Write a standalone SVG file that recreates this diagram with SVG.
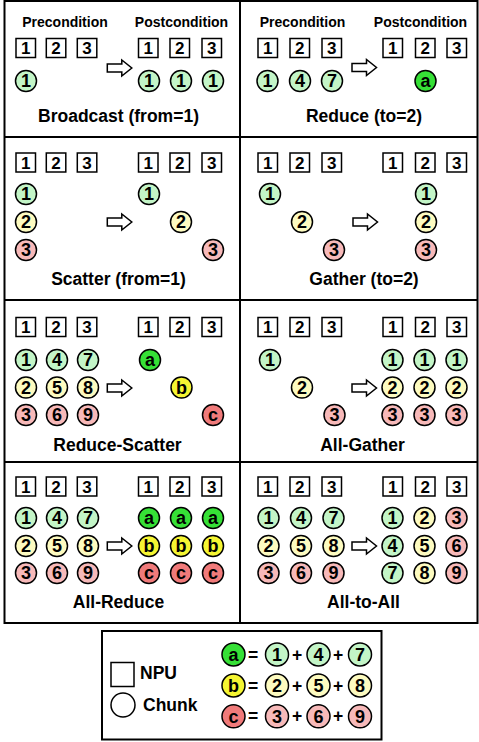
<svg xmlns="http://www.w3.org/2000/svg" xmlns:xlink="http://www.w3.org/1999/xlink" width="479" height="742" viewBox="0 0 479 742">
<style>
.npu{fill:#fff;stroke:#000;stroke-width:1.5}
.ck{stroke:#000;stroke-width:1.5}
.g{fill:#c3f5c7}.y{fill:#fdfbc0}.r{fill:#f7b9b9}
.A{fill:#36e036}.B{fill:#f5f532}.C{fill:#f07a7a}
.frame{fill:none;stroke:#000;stroke-width:2}
text{font-family:"Liberation Sans",Arial,sans-serif;font-weight:bold;text-anchor:middle;fill:#000}
.bt{font-size:17px}.ct{font-size:18px}.lt{font-size:17.5px}.ht{font-size:14px}.st{text-anchor:start}
.arr{fill:#fff;stroke:#000;stroke-width:1.5;stroke-linejoin:miter}
</style>
<defs>
<path id="arrow" class="arr" d="M0,-4 H14.5 V-8 L24.5,0 L14.5,8 V4 H0 Z"/>
</defs>
<rect width="479" height="742" fill="#fff"/>
<g id="grid">
<rect class="frame" x="4.5" y="1" width="473" height="622"/>
<line class="frame" x1="240" y1="1" x2="240" y2="623"/>
<line class="frame" x1="4.5" y1="137" x2="477.5" y2="137"/>
<line class="frame" x1="4.5" y1="300" x2="477.5" y2="300"/>
<line class="frame" x1="4.5" y1="462" x2="477.5" y2="462"/>
</g>

<g id="broadcast">
<text class="ht" x="65" y="27">Precondition</text>
<text class="ht" x="181.5" y="27">Postcondition</text>
<rect class="npu" x="16" y="38.5" width="19.5" height="19"/><text class="bt" x="25.75" y="54">1</text>
<rect class="npu" x="46.3" y="38.5" width="19.5" height="19"/><text class="bt" x="56" y="54">2</text>
<rect class="npu" x="77.3" y="38.5" width="19.5" height="19"/><text class="bt" x="87" y="54">3</text>
<rect class="npu" x="138.5" y="38.5" width="19.5" height="19"/><text class="bt" x="148.25" y="54">1</text>
<rect class="npu" x="170" y="38.5" width="19.5" height="19"/><text class="bt" x="179.75" y="54">2</text>
<rect class="npu" x="202" y="38.5" width="19.5" height="19"/><text class="bt" x="211.75" y="54">3</text>
<circle class="ck g" cx="26" cy="81" r="10.5"/><text class="ct" x="26" y="87.4">1</text>
<circle class="ck g" cx="149" cy="81" r="10.5"/><text class="ct" x="149" y="87.4">1</text>
<circle class="ck g" cx="181" cy="81" r="10.5"/><text class="ct" x="181" y="87.4">1</text>
<circle class="ck g" cx="213" cy="81" r="10.5"/><text class="ct" x="213" y="87.4">1</text>
<text class="lt" x="118.5" y="122">Broadcast (from=1)</text>
</g>

<g id="reduce">
<text class="ht" x="302.5" y="27">Precondition</text>
<text class="ht" x="420.5" y="27">Postcondition</text>
<rect class="npu" x="258" y="38.5" width="19.5" height="19"/><text class="bt" x="267.75" y="54">1</text>
<rect class="npu" x="290" y="38.5" width="19.5" height="19"/><text class="bt" x="299.75" y="54">2</text>
<rect class="npu" x="322" y="38.5" width="19.5" height="19"/><text class="bt" x="331.75" y="54">3</text>
<rect class="npu" x="383" y="38.5" width="19.5" height="19"/><text class="bt" x="392.75" y="54">1</text>
<rect class="npu" x="415.5" y="38.5" width="19.5" height="19"/><text class="bt" x="425.25" y="54">2</text>
<rect class="npu" x="447" y="38.5" width="19.5" height="19"/><text class="bt" x="456.75" y="54">3</text>
<circle class="ck g" cx="267.5" cy="81" r="10.5"/><text class="ct" x="267.5" y="87.4">1</text>
<circle class="ck g" cx="300" cy="81" r="10.5"/><text class="ct" x="300" y="87.4">4</text>
<circle class="ck g" cx="332" cy="81" r="10.5"/><text class="ct" x="332" y="87.4">7</text>
<circle class="ck A" cx="425.5" cy="81" r="10.5"/><text class="ct" x="425.5" y="87.4">a</text>
<text class="lt" x="364" y="122">Reduce (to=2)</text>
</g>

<g id="scatter">
<rect class="npu" x="16" y="153" width="19.5" height="19"/><text class="bt" x="25.75" y="168.6">1</text>
<rect class="npu" x="46.3" y="153" width="19.5" height="19"/><text class="bt" x="56" y="168.6">2</text>
<rect class="npu" x="77.3" y="153" width="19.5" height="19"/><text class="bt" x="87" y="168.6">3</text>
<rect class="npu" x="138.5" y="153" width="19.5" height="19"/><text class="bt" x="148.25" y="168.6">1</text>
<rect class="npu" x="170" y="153" width="19.5" height="19"/><text class="bt" x="179.75" y="168.6">2</text>
<rect class="npu" x="202" y="153" width="19.5" height="19"/><text class="bt" x="211.75" y="168.6">3</text>
<circle class="ck g" cx="26" cy="194" r="10.5"/><text class="ct" x="26" y="200.4">1</text>
<circle class="ck y" cx="26" cy="222" r="10.5"/><text class="ct" x="26" y="228.4">2</text>
<circle class="ck r" cx="26" cy="250" r="10.5"/><text class="ct" x="26" y="256.4">3</text>
<circle class="ck g" cx="149" cy="194" r="10.5"/><text class="ct" x="149" y="200.4">1</text>
<circle class="ck y" cx="181" cy="222" r="10.5"/><text class="ct" x="181" y="228.4">2</text>
<circle class="ck r" cx="213" cy="250" r="10.5"/><text class="ct" x="213" y="256.4">3</text>
<text class="lt" x="118.5" y="285">Scatter (from=1)</text>
</g>

<g id="gather">
<rect class="npu" x="258" y="153" width="19.5" height="19"/><text class="bt" x="267.75" y="168.6">1</text>
<rect class="npu" x="290" y="153" width="19.5" height="19"/><text class="bt" x="299.75" y="168.6">2</text>
<rect class="npu" x="322" y="153" width="19.5" height="19"/><text class="bt" x="331.75" y="168.6">3</text>
<rect class="npu" x="383" y="153" width="19.5" height="19"/><text class="bt" x="392.75" y="168.6">1</text>
<rect class="npu" x="415.5" y="153" width="19.5" height="19"/><text class="bt" x="425.25" y="168.6">2</text>
<rect class="npu" x="447" y="153" width="19.5" height="19"/><text class="bt" x="456.75" y="168.6">3</text>
<circle class="ck g" cx="270" cy="194" r="10.5"/><text class="ct" x="270" y="200.4">1</text>
<circle class="ck y" cx="302" cy="222" r="10.5"/><text class="ct" x="302" y="228.4">2</text>
<circle class="ck r" cx="334" cy="250" r="10.5"/><text class="ct" x="334" y="256.4">3</text>
<circle class="ck g" cx="426" cy="194" r="10.5"/><text class="ct" x="426" y="200.4">1</text>
<circle class="ck y" cx="426" cy="222" r="10.5"/><text class="ct" x="426" y="228.4">2</text>
<circle class="ck r" cx="426" cy="250" r="10.5"/><text class="ct" x="426" y="256.4">3</text>
<text class="lt" x="364" y="285">Gather (to=2)</text>
</g>

<g id="reduce-scatter">
<rect class="npu" x="16" y="317.5" width="19.5" height="19"/><text class="bt" x="25.75" y="333.1">1</text>
<rect class="npu" x="46.3" y="317.5" width="19.5" height="19"/><text class="bt" x="56" y="333.1">2</text>
<rect class="npu" x="77.3" y="317.5" width="19.5" height="19"/><text class="bt" x="87" y="333.1">3</text>
<rect class="npu" x="138.5" y="317.5" width="19.5" height="19"/><text class="bt" x="148.25" y="333.1">1</text>
<rect class="npu" x="170" y="317.5" width="19.5" height="19"/><text class="bt" x="179.75" y="333.1">2</text>
<rect class="npu" x="202" y="317.5" width="19.5" height="19"/><text class="bt" x="211.75" y="333.1">3</text>
<circle class="ck g" cx="26" cy="360" r="10.5"/><text class="ct" x="26" y="366.4">1</text>
<circle class="ck g" cx="57" cy="360" r="10.5"/><text class="ct" x="57" y="366.4">4</text>
<circle class="ck g" cx="88" cy="360" r="10.5"/><text class="ct" x="88" y="366.4">7</text>
<circle class="ck y" cx="26" cy="387.5" r="10.5"/><text class="ct" x="26" y="393.9">2</text>
<circle class="ck y" cx="57" cy="387.5" r="10.5"/><text class="ct" x="57" y="393.9">5</text>
<circle class="ck y" cx="88" cy="387.5" r="10.5"/><text class="ct" x="88" y="393.9">8</text>
<circle class="ck r" cx="26" cy="415" r="10.5"/><text class="ct" x="26" y="421.4">3</text>
<circle class="ck r" cx="57" cy="415" r="10.5"/><text class="ct" x="57" y="421.4">6</text>
<circle class="ck r" cx="88" cy="415" r="10.5"/><text class="ct" x="88" y="421.4">9</text>
<circle class="ck A" cx="150" cy="360" r="10.5"/><text class="ct" x="150" y="366.4">a</text>
<circle class="ck B" cx="181.5" cy="387.5" r="10.5"/><text class="ct" x="181.5" y="393.9">b</text>
<circle class="ck C" cx="213" cy="415" r="10.5"/><text class="ct" x="213" y="421.4">c</text>
<text class="lt" x="117.5" y="451">Reduce-Scatter</text>
</g>

<g id="all-gather">
<rect class="npu" x="258" y="317.5" width="19.5" height="19"/><text class="bt" x="267.75" y="333.1">1</text>
<rect class="npu" x="290" y="317.5" width="19.5" height="19"/><text class="bt" x="299.75" y="333.1">2</text>
<rect class="npu" x="322" y="317.5" width="19.5" height="19"/><text class="bt" x="331.75" y="333.1">3</text>
<rect class="npu" x="383" y="317.5" width="19.5" height="19"/><text class="bt" x="392.75" y="333.1">1</text>
<rect class="npu" x="415.5" y="317.5" width="19.5" height="19"/><text class="bt" x="425.25" y="333.1">2</text>
<rect class="npu" x="447" y="317.5" width="19.5" height="19"/><text class="bt" x="456.75" y="333.1">3</text>
<circle class="ck g" cx="270" cy="360" r="10.5"/><text class="ct" x="270" y="366.4">1</text>
<circle class="ck y" cx="302" cy="387.5" r="10.5"/><text class="ct" x="302" y="393.9">2</text>
<circle class="ck r" cx="334.5" cy="415" r="10.5"/><text class="ct" x="334.5" y="421.4">3</text>
<circle class="ck g" cx="392.5" cy="360" r="10.5"/><text class="ct" x="392.5" y="366.4">1</text>
<circle class="ck g" cx="424.5" cy="360" r="10.5"/><text class="ct" x="424.5" y="366.4">1</text>
<circle class="ck g" cx="456.5" cy="360" r="10.5"/><text class="ct" x="456.5" y="366.4">1</text>
<circle class="ck y" cx="392.5" cy="387.5" r="10.5"/><text class="ct" x="392.5" y="393.9">2</text>
<circle class="ck y" cx="424.5" cy="387.5" r="10.5"/><text class="ct" x="424.5" y="393.9">2</text>
<circle class="ck y" cx="456.5" cy="387.5" r="10.5"/><text class="ct" x="456.5" y="393.9">2</text>
<circle class="ck r" cx="392.5" cy="415" r="10.5"/><text class="ct" x="392.5" y="421.4">3</text>
<circle class="ck r" cx="424.5" cy="415" r="10.5"/><text class="ct" x="424.5" y="421.4">3</text>
<circle class="ck r" cx="456.5" cy="415" r="10.5"/><text class="ct" x="456.5" y="421.4">3</text>
<text class="lt" x="362.5" y="451">All-Gather</text>
</g>

<g id="all-reduce">
<rect class="npu" x="16" y="477" width="19.5" height="19"/><text class="bt" x="25.75" y="492.6">1</text>
<rect class="npu" x="46.3" y="477" width="19.5" height="19"/><text class="bt" x="56" y="492.6">2</text>
<rect class="npu" x="77.3" y="477" width="19.5" height="19"/><text class="bt" x="87" y="492.6">3</text>
<rect class="npu" x="138.5" y="477" width="19.5" height="19"/><text class="bt" x="148.25" y="492.6">1</text>
<rect class="npu" x="170" y="477" width="19.5" height="19"/><text class="bt" x="179.75" y="492.6">2</text>
<rect class="npu" x="202" y="477" width="19.5" height="19"/><text class="bt" x="211.75" y="492.6">3</text>
<circle class="ck g" cx="26" cy="518" r="10.5"/><text class="ct" x="26" y="524.4">1</text>
<circle class="ck g" cx="57" cy="518" r="10.5"/><text class="ct" x="57" y="524.4">4</text>
<circle class="ck g" cx="88" cy="518" r="10.5"/><text class="ct" x="88" y="524.4">7</text>
<circle class="ck y" cx="26" cy="546" r="10.5"/><text class="ct" x="26" y="552.4">2</text>
<circle class="ck y" cx="57" cy="546" r="10.5"/><text class="ct" x="57" y="552.4">5</text>
<circle class="ck y" cx="88" cy="546" r="10.5"/><text class="ct" x="88" y="552.4">8</text>
<circle class="ck r" cx="26" cy="573" r="10.5"/><text class="ct" x="26" y="579.4">3</text>
<circle class="ck r" cx="57" cy="573" r="10.5"/><text class="ct" x="57" y="579.4">6</text>
<circle class="ck r" cx="88" cy="573" r="10.5"/><text class="ct" x="88" y="579.4">9</text>
<circle class="ck A" cx="149" cy="518" r="10.5"/><text class="ct" x="149" y="524.4">a</text>
<circle class="ck A" cx="181" cy="518" r="10.5"/><text class="ct" x="181" y="524.4">a</text>
<circle class="ck A" cx="213" cy="518" r="10.5"/><text class="ct" x="213" y="524.4">a</text>
<circle class="ck B" cx="149" cy="546" r="10.5"/><text class="ct" x="149" y="552.4">b</text>
<circle class="ck B" cx="181" cy="546" r="10.5"/><text class="ct" x="181" y="552.4">b</text>
<circle class="ck B" cx="213" cy="546" r="10.5"/><text class="ct" x="213" y="552.4">b</text>
<circle class="ck C" cx="149" cy="573" r="10.5"/><text class="ct" x="149" y="579.4">c</text>
<circle class="ck C" cx="181" cy="573" r="10.5"/><text class="ct" x="181" y="579.4">c</text>
<circle class="ck C" cx="213" cy="573" r="10.5"/><text class="ct" x="213" y="579.4">c</text>
<text class="lt" x="118.5" y="608">All-Reduce</text>
</g>

<g id="all-to-all">
<rect class="npu" x="258" y="477" width="19.5" height="19"/><text class="bt" x="267.75" y="492.6">1</text>
<rect class="npu" x="290" y="477" width="19.5" height="19"/><text class="bt" x="299.75" y="492.6">2</text>
<rect class="npu" x="322" y="477" width="19.5" height="19"/><text class="bt" x="331.75" y="492.6">3</text>
<rect class="npu" x="383" y="477" width="19.5" height="19"/><text class="bt" x="392.75" y="492.6">1</text>
<rect class="npu" x="415.5" y="477" width="19.5" height="19"/><text class="bt" x="425.25" y="492.6">2</text>
<rect class="npu" x="447" y="477" width="19.5" height="19"/><text class="bt" x="456.75" y="492.6">3</text>
<circle class="ck g" cx="268.5" cy="518" r="10.5"/><text class="ct" x="268.5" y="524.4">1</text>
<circle class="ck g" cx="301" cy="518" r="10.5"/><text class="ct" x="301" y="524.4">4</text>
<circle class="ck g" cx="333.5" cy="518" r="10.5"/><text class="ct" x="333.5" y="524.4">7</text>
<circle class="ck y" cx="268.5" cy="546" r="10.5"/><text class="ct" x="268.5" y="552.4">2</text>
<circle class="ck y" cx="301" cy="546" r="10.5"/><text class="ct" x="301" y="552.4">5</text>
<circle class="ck y" cx="333.5" cy="546" r="10.5"/><text class="ct" x="333.5" y="552.4">8</text>
<circle class="ck r" cx="268.5" cy="573" r="10.5"/><text class="ct" x="268.5" y="579.4">3</text>
<circle class="ck r" cx="301" cy="573" r="10.5"/><text class="ct" x="301" y="579.4">6</text>
<circle class="ck r" cx="333.5" cy="573" r="10.5"/><text class="ct" x="333.5" y="579.4">9</text>
<circle class="ck g" cx="392.5" cy="518" r="10.5"/><text class="ct" x="392.5" y="524.4">1</text>
<circle class="ck y" cx="424.5" cy="518" r="10.5"/><text class="ct" x="424.5" y="524.4">2</text>
<circle class="ck r" cx="456.5" cy="518" r="10.5"/><text class="ct" x="456.5" y="524.4">3</text>
<circle class="ck g" cx="392.5" cy="546" r="10.5"/><text class="ct" x="392.5" y="552.4">4</text>
<circle class="ck y" cx="424.5" cy="546" r="10.5"/><text class="ct" x="424.5" y="552.4">5</text>
<circle class="ck r" cx="456.5" cy="546" r="10.5"/><text class="ct" x="456.5" y="552.4">6</text>
<circle class="ck g" cx="392.5" cy="573" r="10.5"/><text class="ct" x="392.5" y="579.4">7</text>
<circle class="ck y" cx="424.5" cy="573" r="10.5"/><text class="ct" x="424.5" y="579.4">8</text>
<circle class="ck r" cx="456.5" cy="573" r="10.5"/><text class="ct" x="456.5" y="579.4">9</text>
<text class="lt" x="363.5" y="608">All-to-All</text>
</g>

<g id="connectors">
<use xlink:href="#arrow" href="#arrow" x="107.3" y="68"/>
<use xlink:href="#arrow" href="#arrow" x="352" y="67.5"/>
<use xlink:href="#arrow" href="#arrow" x="107.3" y="222"/>
<use xlink:href="#arrow" href="#arrow" x="353" y="222"/>
<use xlink:href="#arrow" href="#arrow" x="107.3" y="388"/>
<use xlink:href="#arrow" href="#arrow" x="352" y="388"/>
<use xlink:href="#arrow" href="#arrow" x="107.3" y="546"/>
<use xlink:href="#arrow" href="#arrow" x="352" y="546"/>
</g>

<g id="legend">
<rect class="frame" x="102" y="631" width="279.5" height="108.5"/>
<rect class="npu" x="111" y="662.5" width="23" height="24"/>
<text class="lt st" x="140" y="679">NPU</text>
<circle class="ck" fill="#fff" cx="123" cy="705" r="12"/>
<text class="lt st" x="143" y="711">Chunk</text>
<circle class="ck A" cx="233.5" cy="654.5" r="11.5"/><text class="ct" x="233.5" y="660.9">a</text>
<text class="lt" x="253" y="660.5">=</text>
<circle class="ck g" cx="277" cy="654.5" r="11.5"/><text class="ct" x="277" y="660.9">1</text>
<text class="lt" x="297" y="660.5">+</text>
<circle class="ck g" cx="318.5" cy="654.5" r="11.5"/><text class="ct" x="318.5" y="660.9">4</text>
<text class="lt" x="338" y="660.5">+</text>
<circle class="ck g" cx="360" cy="654.5" r="11.5"/><text class="ct" x="360" y="660.9">7</text>
<circle class="ck B" cx="233.5" cy="685.5" r="11.5"/><text class="ct" x="233.5" y="691.9">b</text>
<text class="lt" x="253" y="691.5">=</text>
<circle class="ck y" cx="277" cy="685.5" r="11.5"/><text class="ct" x="277" y="691.9">2</text>
<text class="lt" x="297" y="691.5">+</text>
<circle class="ck y" cx="318.5" cy="685.5" r="11.5"/><text class="ct" x="318.5" y="691.9">5</text>
<text class="lt" x="338" y="691.5">+</text>
<circle class="ck y" cx="360" cy="685.5" r="11.5"/><text class="ct" x="360" y="691.9">8</text>
<circle class="ck C" cx="233.5" cy="716.3" r="11.5"/><text class="ct" x="233.5" y="722.7">c</text>
<text class="lt" x="253" y="722.3">=</text>
<circle class="ck r" cx="277" cy="716.3" r="11.5"/><text class="ct" x="277" y="722.7">3</text>
<text class="lt" x="297" y="722.3">+</text>
<circle class="ck r" cx="318.5" cy="716.3" r="11.5"/><text class="ct" x="318.5" y="722.7">6</text>
<text class="lt" x="338" y="722.3">+</text>
<circle class="ck r" cx="360" cy="716.3" r="11.5"/><text class="ct" x="360" y="722.7">9</text>
</g>
</svg>
